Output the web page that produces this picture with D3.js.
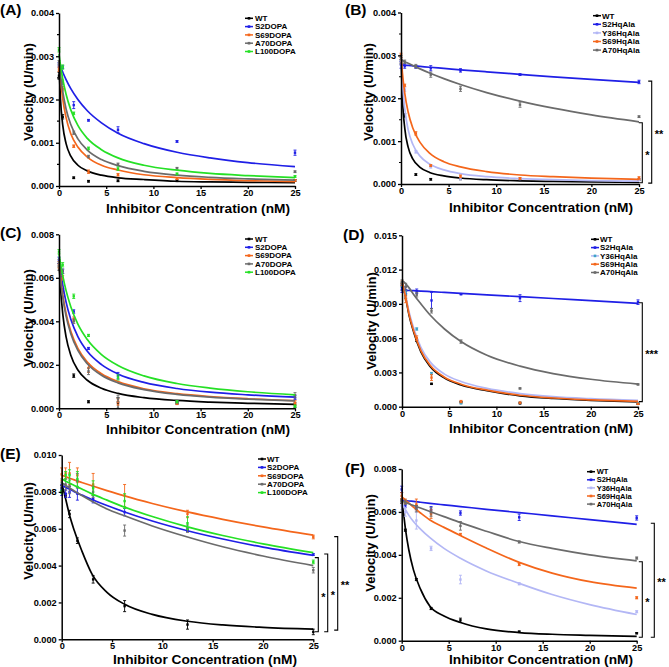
<!DOCTYPE html>
<html><head><meta charset="utf-8">
<script src="https://cdn.jsdelivr.net/npm/d3@7"></script>
<style>
body{margin:0;background:#fff;}
svg{display:block;font-family:"Liberation Sans",Arial,sans-serif;font-weight:bold;}
</style></head><body>
<svg id="c" width="669" height="667"></svg>
<script>
// ---------------- DATA (velocities in 10^-3 U/min) ----------------
const curveX = [0,0.15,0.4,0.75,1.25,2,3,4.5,6.25,9,12.5,16,20,25];
const conc7 = [0,0.39,1.56,3.125,6.25,12.5,25];
const conc8 = [0,0.39,0.78,1.56,3.125,6.25,12.5,25];

const dopaSeries = ["WT","S2DOPA","S69DOPA","A70DOPA","L100DOPA"];
const hqSeries = ["WT","S2HqAla","Y36HqAla","S69HqAla","A70HqAla"];
const dopaColors = ["#000000","#1f1fe6","#f4661b","#6b6b6b","#25e025"];
const hqColors = ["#000000","#1f1fe6","#b3b7f5","#f4661b","#6b6b6b"];
const hqPointColorsD = ["#000000","#1f1fe6","#3fa3c8","#f4661b","#6b6b6b"];

const xTickVals = [0,5,10,15,20,25];
const xTickLabels = ["0","5","10","15","20","25"];
const yTicksAB = [0,1,2,3,4];
const yLabelsAB = ["0.000","0.001","0.002","0.003","0.004"];
const yTicksCF = [0,2,4,6,8];
const yLabelsCF = ["0.000","0.002","0.004","0.006","0.008"];
const yTicksD = [0,3,6,9,12,15];
const yLabelsD = ["0.000","0.003","0.006","0.009","0.012","0.015"];
const yTicksE = [0,2,4,6,8,10];
const yLabelsE = ["0.000","0.002","0.004","0.006","0.008","0.010"];

// Panel A
const fitA = [
  [2.80,2.03,1.40,0.98,0.69,0.48,0.35,0.25,0.19,0.15,0.11,0.095,0.085,0.075],
  [2.85,2.76,2.63,2.46,2.25,2.00,1.74,1.46,1.22,0.98,0.78,0.65,0.54,0.45],
  [2.90,2.49,2.01,1.58,1.21,0.90,0.67,0.48,0.37,0.26,0.195,0.155,0.125,0.10],
  [2.90,2.58,2.18,1.78,1.42,1.09,0.83,0.61,0.47,0.34,0.25,0.20,0.165,0.135],
  [3.05,2.80,2.47,2.12,1.76,1.40,1.10,0.84,0.65,0.48,0.365,0.29,0.24,0.195]
];
const ptsA = [
  [2.55,1.60,0.19,0.11,0.12,0.12,0.13],
  [2.80,2.75,1.87,1.52,1.30,1.03,0.77],
  [2.70,2.25,0.92,0.33,0.26,0.17,0.13],
  [2.85,2.40,1.23,0.68,0.50,0.41,0.33],
  [3.15,2.75,1.68,0.87,0.40,0.28,0.22]
];
const errA = [
  [0.08,0.05,0.02,0.02,0.02,0.02,0.02],
  [0.05,0.03,0.08,0.02,0.07,0.02,0.06],
  [0.05,0.05,0.03,0.04,0.03,0.02,0.02],
  [0.05,0.05,0.04,0.03,0.03,0.02,0.02],
  [0.05,0.05,0.03,0.03,0.04,0.02,0.02]
];
// Panel B
const fitB = [
  [3.00,2.00,1.29,0.86,0.58,0.39,0.27,0.19,0.14,0.10,0.075,0.06,0.05,0.04],
  [2.78,2.777,2.772,2.766,2.756,2.742,2.723,2.696,2.664,2.616,2.558,2.50,2.44,2.37],
  [3.00,2.36,1.74,1.27,0.92,0.65,0.465,0.33,0.243,0.172,0.127,0.10,0.08,0.065],
  [3.00,2.59,2.11,1.68,1.30,0.97,0.72,0.52,0.40,0.29,0.21,0.17,0.136,0.11],
  [2.90,2.883,2.854,2.816,2.762,2.685,2.589,2.458,2.32,2.132,1.933,1.768,1.611,1.45]
];
const ptsB = [
  [2.85,1.60,0.22,0.11,0.12,0.10,0.10],
  [2.78,2.75,2.73,2.70,2.65,2.55,2.38],
  [2.90,2.20,0.75,0.40,0.13,0.12,0.10],
  [3.00,2.30,1.18,0.43,0.18,0.13,0.14],
  [2.95,2.85,2.75,2.55,2.22,1.85,1.57]
];
const errB = [
  [0.05,0.04,0.02,0.02,0.02,0.02,0.02],
  [0.08,0.05,0.03,0.06,0.04,0.02,0.04],
  [0.05,0.04,0.03,0.03,0.03,0.02,0.02],
  [0.05,0.03,0.04,0.02,0.03,0.02,0.03],
  [0.05,0.04,0.04,0.06,0.06,0.06,0.02]
];
// Panel C
const fitC = [
  [6.80,5.60,4.33,3.28,2.44,1.76,1.29,0.92,0.685,0.49,0.36,0.285,0.23,0.185],
  [6.90,6.37,5.66,4.88,4.09,3.30,2.62,2.01,1.58,1.19,0.91,0.74,0.62,0.51],
  [6.70,6.05,5.21,4.36,3.54,2.76,2.13,1.59,1.23,0.90,0.675,0.54,0.44,0.355],
  [6.60,5.94,5.09,4.24,3.43,2.66,2.05,1.52,1.17,0.86,0.64,0.51,0.42,0.34],
  [7.10,6.68,6.09,5.41,4.67,3.87,3.16,2.47,1.97,1.49,1.14,0.93,0.76,0.62]
];
const ptsC = [
  [6.50,5.40,1.50,0.30,0.25,0.25,0.15],
  [6.80,6.30,4.45,2.75,1.50,0.25,0.50],
  [6.60,6.00,4.10,1.85,0.30,0.22,0.25],
  [6.70,6.30,4.00,1.70,0.45,0.30,0.60],
  [7.20,6.60,5.15,3.35,1.42,0.30,0.10]
];
const errC = [
  [0.15,0.10,0.08,0.05,0.25,0.05,0.10],
  [0.15,0.10,0.08,0.05,0.15,0.05,0.10],
  [0.15,0.10,0.10,0.20,0.15,0.05,0.10],
  [0.15,0.10,0.10,0.15,0.15,0.05,0.12],
  [0.10,0.10,0.10,0.05,0.12,0.05,0.05]
];
// Panel D
const fitD = [
  [10.9,10.4,9.5,8.0,6.5,4.8,3.5,2.5,1.9,1.4,0.95,0.72,0.56,0.42],
  [10.2,10.19,10.18,10.17,10.15,10.12,10.07,10.0,9.92,9.79,9.63,9.47,9.28,9.05],
  [10.9,10.45,9.65,8.3,6.85,5.2,3.9,2.85,2.2,1.6,1.15,0.88,0.70,0.55],
  [11.0,10.45,9.55,8.1,6.6,4.9,3.6,2.58,1.97,1.45,1.0,0.76,0.60,0.46],
  [11.0,10.95,10.75,10.4,9.8,9.0,8.0,6.8,5.7,4.5,3.55,2.9,2.4,1.98]
];
const ptsD = [
  [10.5,9.8,5.8,2.0,0.40,0.30,0.25],
  [10.3,10.2,10.1,9.3,9.85,9.5,9.15],
  [10.7,10.0,6.8,2.9,0.30,0.35,0.30],
  [10.8,9.4,6.0,2.55,0.45,0.35,0.25],
  [10.9,10.5,9.8,8.4,5.7,1.6,1.95]
];
const errD = [
  [0.3,0.3,0.1,0.05,0.05,0.05,0.05],
  [0.3,0.3,0.2,0.7,0.05,0.3,0.2],
  [0.2,0.2,0.1,0.1,0.05,0.05,0.05],
  [0.2,0.3,0.2,0.25,0.1,0.05,0.05],
  [0.2,0.3,0.2,0.2,0.15,0.05,0.05]
];
// Panel E
const fitE = [
  [8.50,8.15,7.60,6.80,5.90,4.80,3.55,2.55,1.90,1.35,0.98,0.78,0.65,0.55],
  [8.35,8.31,8.24,8.15,8.01,7.83,7.59,7.26,6.91,6.42,5.89,5.44,5.00,4.55],
  [8.90,8.87,8.82,8.75,8.65,8.51,8.33,8.07,7.78,7.37,6.91,6.51,6.10,5.65],
  [8.50,8.44,8.35,8.22,8.05,7.80,7.49,7.07,6.70,6.15,5.55,5.02,4.52,4.00],
  [8.70,8.66,8.58,8.48,8.35,8.15,7.89,7.55,7.17,6.66,6.10,5.63,5.18,4.70]
];
const ptsE = [
  [8.20,7.80,6.80,5.35,3.25,1.80,0.80,0.40],
  [8.10,7.90,8.00,7.90,7.60,6.90,5.95,4.60],
  [8.95,9.00,9.00,8.90,8.40,7.80,6.80,5.55],
  [8.50,8.40,8.30,8.60,8.00,5.90,6.00,3.75],
  [8.00,8.90,8.90,8.70,8.20,7.50,6.30,4.20]
];
const errE = [
  [0.15,0.10,0.20,0.15,0.20,0.30,0.25,0.15],
  [0.30,0.20,0.30,0.35,0.20,0.20,0.10,0.05],
  [0.35,0.30,0.60,0.40,0.60,0.60,0.20,0.10],
  [0.20,0.30,0.40,0.40,0.30,0.30,0.20,0.15],
  [0.10,0.20,0.30,0.40,0.40,0.40,0.35,0.10]
];
// Panel F
const fitF = [
  [6.50,6.10,5.20,4.25,3.30,2.40,1.60,1.15,0.85,0.55,0.38,0.30,0.25,0.20],
  [6.55,6.54,6.53,6.51,6.49,6.45,6.40,6.33,6.25,6.12,5.97,5.82,5.64,5.42],
  [6.40,6.30,6.10,5.85,5.55,5.20,4.80,4.30,3.84,3.25,2.67,2.15,1.68,1.22],
  [6.70,6.65,6.55,6.42,6.22,5.95,5.62,5.28,4.90,4.32,3.65,3.15,2.75,2.45],
  [6.50,6.48,6.44,6.38,6.30,6.18,6.02,5.78,5.50,5.10,4.62,4.30,4.00,3.72]
];
const ptsF = [
  [6.50,5.15,2.85,1.50,0.95,0.42,0.35],
  [7.05,6.30,6.20,6.10,5.95,5.75,5.72],
  [6.30,6.00,5.60,4.30,2.85,2.65,1.35],
  [6.75,6.50,6.35,5.90,4.95,3.55,2.00],
  [6.50,6.45,6.15,6.00,5.35,4.60,3.85]
];
const errF = [
  [0.10,0.05,0.05,0.05,0.10,0.03,0.03],
  [0.15,0.10,0.10,0.15,0.10,0.15,0.10],
  [0.20,0.20,0.40,0.10,0.20,0.05,0.05],
  [0.15,0.10,0.25,0.20,0.05,0.05,0.05],
  [0.10,0.10,0.15,0.20,0.20,0.05,0.05]
];

// ---------------- DRAWING ----------------
const svg = d3.select("#c");

const panels = [
  {lab:"(A)", lx:0, ly:14.5, x0:59, x1:295, y0:186, y1:13, ymax:4, yt:yTicksAB, yl:yLabelsAB, minor:true,
   names:dopaSeries, cols:dopaColors, fits:fitA, pts:ptsA, errs:errA, conc:conc7,
   ytx:28, yty:92, xtx:198, xty:208, leg:{mx:249, tx:255, y0:18.3, dy:8.3, fs:8},
   br:[]},
  {lab:"(B)", lx:345, ly:14.5, x0:401, x1:639, y0:184, y1:12.5, ymax:4, yt:yTicksAB, yl:yLabelsAB, minor:true,
   names:hqSeries, cols:hqColors, fits:fitB, pts:ptsB, errs:errB, conc:conc7,
   ytx:368, yty:92, xtx:541, xty:207, leg:{mx:597, tx:602, y0:15.7, dy:8.6, fs:8},
   br:[{dx:12.7, a:2.40, b:0.02, t:"**"},{dx:3.3, a:1.43, b:0.03, t:"*"}]},
  {lab:"(C)", lx:0, ly:238, x0:59, x1:295, y0:408.3, y1:234.3, ymax:8, yt:yTicksCF, yl:yLabelsCF,
   names:dopaSeries, cols:dopaColors, fits:fitC, pts:ptsC, errs:errC, conc:conc7,
   ytx:28, yty:318, xtx:198, xty:429, leg:{mx:249, tx:255, y0:239, dy:8.3, fs:8},
   br:[]},
  {lab:"(D)", lx:343, ly:239.5, x0:402, x1:638, y0:406.7, y1:235.3, ymax:15, yt:yTicksD, yl:yLabelsD,
   names:hqSeries, cols:hqColors, pcols:hqPointColorsD, fits:fitD, pts:ptsD, errs:errD, conc:conc7,
   ytx:371.7, yty:321, xtx:541, xty:428, leg:{mx:595, tx:600, y0:239.3, dy:8.3, fs:8},
   br:[{dx:4.3, a:9.1, b:0.44, t:"***"}]},
  {lab:"(E)", lx:0, ly:459, x0:61.7, x1:313.3, y0:639.3, y1:455, ymax:10, yt:yTicksE, yl:yLabelsE,
   names:dopaSeries, cols:dopaColors, fits:fitE, pts:ptsE, errs:errE, conc:conc8,
   ytx:28, yty:531, xtx:205, xty:659.6, leg:{mx:262, tx:267, y0:459, dy:8.4, fs:8},
   br:[{dx:5, a:4.43, b:0.41, t:"*"},{dx:14.4, a:4.63, b:0.41, t:"*"},{dx:24.4, a:5.57, b:0.5, t:"**"}]},
  {lab:"(F)", lx:345, ly:474, x0:401.7, x1:636.7, y0:640.7, y1:469, ymax:8, yt:yTicksCF, yl:yLabelsCF,
   names:hqSeries, cols:hqColors, fits:fitF, pts:ptsF, errs:errF, conc:conc7,
   ytx:370, yty:543, xtx:541, xty:659.6, leg:{mx:591, tx:596.7, y0:471.7, dy:8.1, fs:7.5},
   br:[{dx:5.6, a:3.68, b:0.16, t:"*"},{dx:17.6, a:5.47, b:0.16, t:"**"}]}
];

panels.forEach(p => {
  const x = d3.scaleLinear().domain([0,25]).range([p.x0, p.x1]);
  const y = d3.scaleLinear().domain([0,p.ymax]).range([p.y0, p.y1]);
  const g = svg.append("g");

  // series: error bars, points, fitted curves
  p.names.forEach((nm, i) => {
    const col = p.cols[i];
    const pc = p.pcols ? p.pcols[i] : col;
    const sg = g.append("g");
    p.conc.forEach((c, j) => {
      const v = p.pts[i][j], e = p.errs[i][j];
      const cx = x(c);
      sg.append("line").attr("x1",cx).attr("x2",cx).attr("y1",y(v-e)).attr("y2",y(v+e))
        .attr("stroke",pc).attr("stroke-width",0.9);
      [v-e, v+e].forEach(t => sg.append("line").attr("x1",cx-1.5).attr("x2",cx+1.5)
        .attr("y1",y(t)).attr("y2",y(t)).attr("stroke",pc).attr("stroke-width",0.9));
      sg.append("rect").attr("x",cx-1.2).attr("y",y(v)-1.2).attr("width",2.4).attr("height",2.4).attr("fill",pc);
    });
    const line = d3.line().x(d => x(d[0])).y(d => y(d[1])).curve(d3.curveMonotoneX);
    sg.append("path").datum(curveX.map((cx, j) => [cx, p.fits[i][j]]))
      .attr("fill","none").attr("stroke",col).attr("stroke-width",1.7).attr("d",line);
  });

  // axes
  const ya = d3.axisLeft(y).tickValues(p.yt).tickFormat((d,i) => p.yl[i]).tickSize(3).tickPadding(2).tickSizeOuter(0);
  const xa = d3.axisBottom(x).tickValues(xTickVals).tickFormat((d,i) => xTickLabels[i]).tickSize(3).tickPadding(0.5).tickSizeOuter(0);
  const gy = g.append("g").attr("transform",`translate(${p.x0},0)`).call(ya);
  const gx = g.append("g").attr("transform",`translate(0,${p.y0})`).call(xa);
  [gx, gy].forEach(a => {
    a.select(".domain").attr("stroke","#000").attr("stroke-width",1.5);
    a.selectAll(".tick line").attr("stroke","#000").attr("stroke-width",1.3);
    a.selectAll(".tick text").attr("fill","#000").style("font-size","9.2px").style("font-weight","bold")
      .style("font-family",'"Liberation Sans",Arial,sans-serif');
  });
  if (p.minor) {
    d3.range(0.5, p.ymax, 1).forEach(v => g.append("line").attr("x1",p.x0-2).attr("x2",p.x0)
      .attr("y1",y(v)).attr("y2",y(v)).attr("stroke","#000").attr("stroke-width",1.1));
  }

  // titles
  g.append("text").attr("transform",`translate(${p.ytx},${p.yty}) rotate(-90)`)
    .attr("text-anchor","middle").attr("dy","0.35em").style("font-size","13px").text("Velocity (U/min)");
  g.append("text").attr("x",p.xtx).attr("y",p.xty).attr("text-anchor","middle").attr("dy","0.35em")
    .style("font-size","13.7px").text("Inhibitor Concentration (nM)");
  g.append("text").attr("x",p.lx).attr("y",p.ly).style("font-size","15.5px").text(p.lab);

  // legend
  p.names.forEach((nm, i) => {
    const ly = p.leg.y0 + i*p.leg.dy;
    const pc = p.pcols ? p.pcols[i] : p.cols[i];
    g.append("line").attr("x1",p.leg.mx-4).attr("x2",p.leg.mx+4).attr("y1",ly).attr("y2",ly)
      .attr("stroke",p.cols[i]).attr("stroke-width",1.5);
    g.append("rect").attr("x",p.leg.mx-1.3).attr("y",ly-1.3).attr("width",2.6).attr("height",2.6).attr("fill",pc);
    g.append("text").attr("x",p.leg.tx).attr("y",ly).attr("dy","0.35em").style("font-size",p.leg.fs+"px").text(nm);
  });

  // significance brackets
  p.br.forEach(b => {
    const bx = p.x1 + b.dx;
    g.append("path").attr("d",`M${bx-3.5},${y(b.a)}H${bx}V${y(b.b)}H${bx-3.5}`)
      .attr("fill","none").attr("stroke","#000").attr("stroke-width",1.1);
    g.append("text").attr("x",bx+3).attr("y",(y(b.a)+y(b.b))/2).attr("dy","0.55em")
      .style("font-size","11px").text(b.t);
  });
});
</script>
</body></html>
